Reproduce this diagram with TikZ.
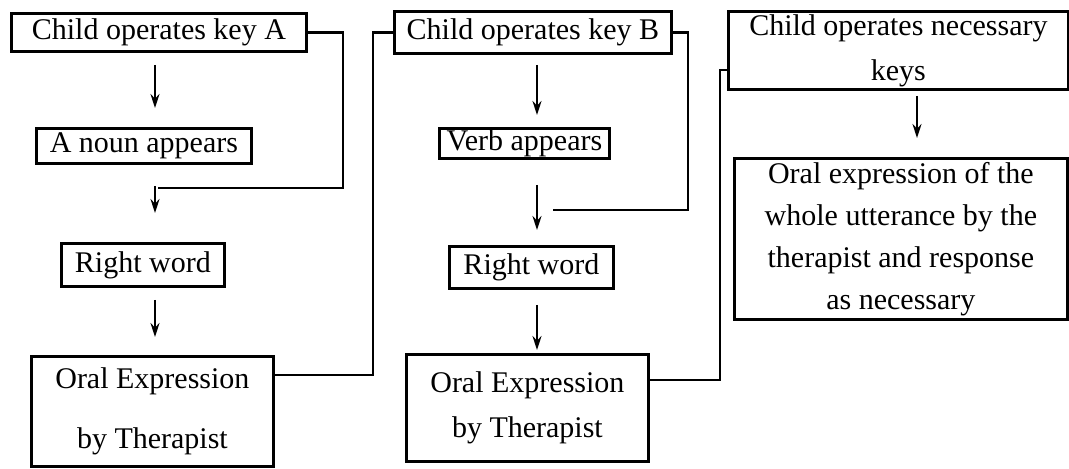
\documentclass[tikz,border=0pt]{standalone}
\usepackage{fontspec}
\setmainfont{Liberation Serif}
\usetikzlibrary{arrows.meta, positioning, calc}

\begin{document}
\begin{tikzpicture}[
    x=0.5pt, y=-0.5pt,
    box/.style={draw, line width=1.4pt, inner sep=0pt, anchor=north west, align=center,
        font=\fontsize{15pt}{18pt}\selectfont},
    arr/.style={-{Stealth[length=7pt, width=4.5pt]}, line width=0.9pt},
    link/.style={line width=1.2pt}
]
\useasboundingbox (0,0) rectangle (1069,468);
% Column of key A
\node[box, minimum width=147.5pt, minimum height=19pt] (keyA) at (10,12) {Child operates key A};
\node[box, minimum width=107.5pt, minimum height=17.5pt] (nounA) at (35,127) {A noun appears};
\node[box, minimum width=81.5pt, minimum height=21.5pt] (rightA) at (60,242) {Right word};
\node[box, minimum width=121pt, minimum height=55pt, font=\fontsize{15pt}{30pt}\selectfont]
    (exprA) at (30,355) {Oral Expression\\by Therapist};
\coordinate (colA) at (155,0);
\coordinate (jA) at (158,188);
\draw[arr, shorten <=6pt, shorten >=9.5pt] (keyA.south -| colA) -- (nounA.north -| colA);
\draw[arr, shorten <=10.5pt, shorten >=14.5pt] (nounA.south -| colA) -- (rightA.north -| colA);
\draw[arr, shorten <=6pt, shorten >=9pt] (rightA.south -| colA) -- (exprA.north -| colA);
\draw[link] (keyA.east) -- ++(35,0) |- (jA);
% Column of key B
\node[box, minimum width=138.5pt, minimum height=21pt] (keyB) at (393,10) {Child operates key B};
\node[box, minimum width=85pt, minimum height=15pt] (verbB) at (438,127) {Verb appears};
\node[box, minimum width=82pt, minimum height=21pt] (rightB) at (448,245) {Right word};
\node[box, minimum width=121pt, minimum height=53.5pt, font=\fontsize{15pt}{22.5pt}\selectfont]
    (exprB) at (405,353) {Oral Expression\\by Therapist};
\coordinate (colB) at (537,0);
\coordinate (jB) at (553,210);
\draw[arr, shorten <=5pt, shorten >=6pt] (keyB.south -| colB) -- (verbB.north -| colB);
\draw[arr, shorten <=12.5pt, shorten >=7.5pt] (verbB.south -| colB) -- (rightB.north -| colB);
\draw[arr, shorten <=7.5pt, shorten >=1.5pt] (rightB.south -| colB) -- (exprB.north -| colB);
\draw[link] ($(exprA.north east)+(0,20)$) -- ++(98,0) |- (keyB.west);
\draw[link] (keyB.east) -- ++(15,0) |- (jB);
% Column of all keys
\node[box, minimum width=170pt, minimum height=39pt, font=\fontsize{15pt}{22.5pt}\selectfont]
    (keyC) at (727,10) {Child operates necessary\\keys};
\node[box, minimum width=166.5pt, minimum height=80.5pt, font=\fontsize{15pt}{21pt}\selectfont]
    (exprC) at (733,157) {Oral expression of the\\whole utterance by the\\therapist and response\\as necessary};
\coordinate (colC) at (917,0);
\draw[arr, shorten <=2.5pt, shorten >=9.5pt] (keyC.south -| colC) -- (exprC.north -| colC);
\draw[link] ($(exprB.north east)+(0,27)$) -- ++(70,0) |- ($(keyC.south west)+(0,-21)$);
\end{tikzpicture}
\end{document}
